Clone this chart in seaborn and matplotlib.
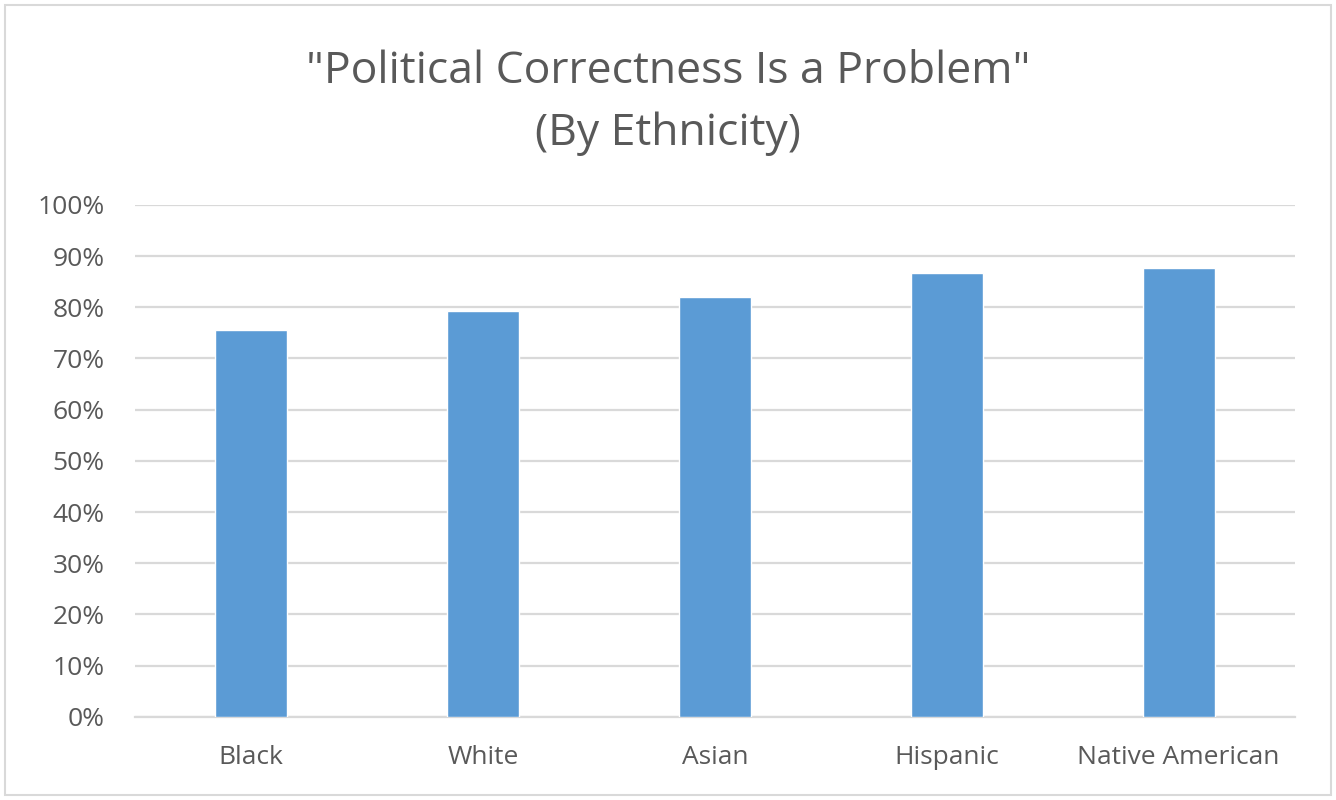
import matplotlib
matplotlib.use("Agg")
import matplotlib.pyplot as plt
import seaborn as sns
import pandas as pd
from matplotlib.patches import Rectangle
from matplotlib.ticker import PercentFormatter

ethnicities = ["Black", "White", "Asian", "Hispanic", "Native American"]
share = [0.756, 0.792, 0.820, 0.867, 0.877]

df = pd.DataFrame({"Ethnicity": ethnicities, "Share": share})

sns.set_theme(style="white")
plt.rcParams["font.family"] = ["Open Sans", "DejaVu Sans"]

fig = plt.figure(figsize=(13.36, 8), dpi=100)
ax = fig.add_axes([0.101, 0.104, 0.868, 0.640])

sns.barplot(data=df, x="Ethnicity", y="Share", color="#5B9BD5",
            width=0.31, saturation=1, ax=ax, zorder=3)

ax.set_ylim(0, 1)
ax.set_yticks([i / 10 for i in range(11)])
ax.yaxis.set_major_formatter(PercentFormatter(1.0, decimals=0))
ax.grid(axis="y", color="#D9D9D9", linewidth=1.6, zorder=0)
ax.set_axisbelow(True)
for s in ["top", "right", "left"]:
    ax.spines[s].set_visible(False)
ax.spines["bottom"].set_color("#D9D9D9")
ax.spines["bottom"].set_linewidth(1.6)
ax.tick_params(axis="both", length=0, labelsize=19, colors="#595959")
ax.tick_params(axis="x", pad=20)
ax.tick_params(axis="y", pad=22)
ax.set_xlabel("")
ax.set_ylabel("")

fig.text(0.5, 0.91, '"Political Correctness Is a Problem"', ha="center", va="center",
         fontsize=32, color="#595959")
fig.text(0.5, 0.833, "(By Ethnicity)", ha="center", va="center",
         fontsize=32, color="#595959")

fig.patches.append(Rectangle((0.004, 0.006), 0.992, 0.988, transform=fig.transFigure,
                             fill=False, edgecolor="#D9D9D9", linewidth=1.5))

fig.savefig("out.png", dpi=100)
